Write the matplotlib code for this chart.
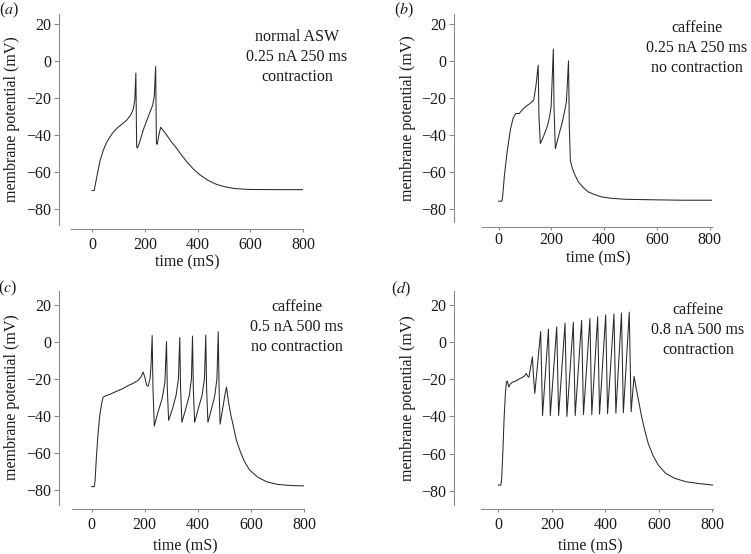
import matplotlib
matplotlib.use('Agg')
import matplotlib.pyplot as plt

plt.rcParams['font.family'] = 'Liberation Serif'
plt.rcParams['mathtext.fontset'] = 'stix'

# traces: time (ms) and membrane potential (mV)
t_a = [0, 8, 12, 18, 30, 43, 55, 68, 80, 94,
       110, 131, 145, 152, 157, 162, 166, 169, 172, 180,
       194, 213, 230, 236, 241, 244, 247, 252, 260, 283,
       300, 321, 340, 359, 385, 410, 440, 473, 505, 536,
       570, 599, 700, 800]
v_a = [-70, -70, -67, -62.5, -54, -48, -44, -41, -38.5, -36.4,
       -34.5, -32, -29.5, -27.5, -25.5, -21, -6.5, -46.3, -47, -44,
       -37.3, -30, -23.8, -19, -3, -44.5, -45, -41, -35.8, -40,
       -43.5, -47.2, -51, -54.4, -58.5, -61.6, -64.5, -66.7, -68, -68.8,
       -69.2, -69.4, -69.5, -69.5]

t_b = [0, 12, 15, 22, 33, 45, 55, 65, 78, 90,
       105, 120, 133, 142, 150, 153, 158, 170, 184, 193,
       199, 207.5, 210, 215, 225, 240, 250, 257, 265, 268,
       272, 280, 290, 302, 320, 340, 365, 390, 430, 480,
       600, 700, 810]
v_b = [-76, -76, -74, -62, -48.5, -37, -31, -28.5, -28.5, -26.5,
       -24.5, -23, -21.3, -13, -2.3, -30, -44.8, -41, -35.8, -30.5,
       -25, 6.4, -25, -47.6, -42, -34, -27.5, -22.2, 0, -35,
       -54, -58.5, -62, -65.5, -68.5, -71, -72.5, -73.7, -74.5, -75,
       -75.3, -75.5, -75.5]

t_c = [0, 10, 13, 18, 24, 30, 37, 43, 53, 68,
       90, 118, 140, 156, 175, 186, 194, 200, 207, 213,
       220, 224, 228, 231, 236, 250, 265, 276, 282, 285,
       290, 305, 318, 327, 332, 335, 340, 355, 368, 376,
       380, 383, 388, 402, 416, 425, 430, 433, 438, 452,
       464, 472, 477, 480, 484, 495, 503, 508, 515, 525,
       533, 545, 558, 575, 595, 625, 658, 700, 750, 800]
v_c = [-78.2, -78.2, -75, -62, -50, -40.5, -34, -30, -29.2, -28.5,
       -27, -25.3, -23.5, -22.5, -20.9, -19, -16.4, -19, -23.5, -24,
       -20, -12, 3.3, -25, -45.5, -38, -31, -22, 0, -25,
       -42.5, -36, -29, -20, 2.2, -25, -43.5, -36, -29, -20,
       3, -25, -43.5, -36, -29, -20, 3.5, -25, -43.5, -36,
       -29, -20, 5.3, -25, -44.5, -35, -28, -24.5, -32, -40,
       -45, -53, -58.5, -64.5, -69.2, -73, -75.5, -77, -77.6, -77.8]

t_d = [0, 9, 12, 17, 21, 26, 30, 33, 39, 45,
       54, 62, 70, 79, 90, 98, 104, 110, 114, 120,
       127, 131, 136, 158, 165, 187, 194, 218, 225, 249,
       256, 280, 287, 311, 318, 342, 349, 371, 378, 401,
       408, 432, 439, 460, 467, 489, 496, 507, 515, 522,
       535, 548, 560, 578, 597, 625, 659, 700, 750, 800]
v_d = [-76.8, -76.8, -74, -58, -42, -28, -21.5, -21, -24.2, -22.5,
       -21.5, -21.2, -20.5, -19.8, -19, -18.2, -17, -18.5, -19, -14,
       -8, -18, -27.7, 5.5, -39.5, 6.8, -39.5, 8, -39.5, 10,
       -40, 10.5, -39.5, 11.5, -39, 12.5, -39, 13.5, -38.8, 14.5,
       -38.5, 15, -38.2, 15.5, -38, 16, -37.5, -18.5, -25, -30,
       -40, -48, -54.5, -61, -66, -70.5, -73.2, -75, -76, -76.8]

panel_tags = ['a', 'b', 'c', 'd']
conditions = [['normal ASW', '0.25 nA 250 ms', 'contraction'],
              ['caffeine', '0.25 nA 250 ms', 'no contraction'],
              ['caffeine', '0.5 nA 500 ms', 'no contraction'],
              ['caffeine', '0.8 nA 500 ms', 'contraction']]
x_ticks = [0, 200, 400, 600, 800]
y_ticks = [20, 0, -20, -40, -60, -80]

W, H = 751, 554
fig = plt.figure(figsize=(W / 100, H / 100), dpi=100)


def fx(px):
    return px / W


def fy(py):
    return 1 - py / H


# per panel layout in pixels: axes box, limits, spine offsets, label spots
layout = [
    dict(box=(71, 14, 303, 225), xlim=(-80, 800), ylim=(-88.6, 25.4),
         left_out=12, bottom_out=4, xpad=3, ylab=(12, 119), xlab=(187, 262),
         tag=(9, 10), note=(297, [37, 57, 77])),
    dict(box=(482, 14, 712, 222), xlim=(-63, 809), ylim=(-87.3, 25.4),
         left_out=28, bottom_out=5, xpad=1, ylab=(408, 118), xlab=(598, 258),
         tag=(404, 10), note=(697, [28, 48, 68])),
    dict(box=(72, 291, 304, 505), xlim=(-74, 800), ylim=(-88.1, 27.3),
         left_out=13, bottom_out=4, xpad=3, ylab=(12, 397), xlab=(185, 546),
         tag=(8, 288), note=(297, [307, 327, 347])),
    dict(box=(481, 291, 713, 505), xlim=(-65, 802), ylim=(-87.5, 27.3),
         left_out=27, bottom_out=4, xpad=3, ylab=(408, 398), xlab=(590, 546),
         tag=(401, 289), note=(698, [310, 330, 350])),
]
traces = [(t_a, v_a), (t_b, v_b), (t_c, v_c), (t_d, v_d)]

spine_col = '#8a8a8a'
text_col = '#1a1a1a'
fs = 11.5

for lay, (t, v), tag, note in zip(layout, traces, panel_tags, conditions):
    l, top, r, b = lay['box']
    ax = fig.add_axes([fx(l), fy(b), fx(r) - fx(l), fy(top) - fy(b)])
    ax.plot(t, v, color='#2a2a2a', lw=0.75)
    ax.set_xlim(*lay['xlim'])
    ax.set_ylim(*lay['ylim'])
    ax.set_xticks(x_ticks)
    ax.set_yticks(y_ticks)
    for s in ['top', 'right']:
        ax.spines[s].set_visible(False)
    ax.spines['left'].set_position(('outward', lay['left_out'] * 0.72))
    ax.spines['bottom'].set_position(('outward', lay['bottom_out'] * 0.72))
    for s in ['left', 'bottom']:
        ax.spines[s].set_color(spine_col)
        ax.spines[s].set_linewidth(0.8)
    ax.tick_params(axis='y', direction='out', length=3.5, width=0.8,
                   color=spine_col, pad=2, labelsize=fs, labelcolor=text_col)
    ax.tick_params(axis='x', direction='out', length=2.5, width=0.8,
                   color=spine_col, pad=lay['xpad'], labelsize=fs,
                   labelcolor=text_col)
    ax.patch.set_visible(False)

    fig.text(fx(lay['ylab'][0]), fy(lay['ylab'][1]), 'membrane potential (mV)',
             rotation=90, ha='center', va='center', fontsize=fs, color=text_col)
    fig.text(fx(lay['xlab'][0]), fy(lay['xlab'][1]), 'time (mS)',
             ha='center', va='center', fontsize=fs, color=text_col)
    fig.text(fx(lay['tag'][0]), fy(lay['tag'][1]), r'($\mathit{%s}$)' % tag,
             ha='center', va='center', fontsize=fs, color=text_col)
    nx, nys = lay['note']
    for line, ny in zip(note, nys):
        fig.text(fx(nx), fy(ny), line, ha='center', va='center',
                 fontsize=fs, color=text_col)

fig.savefig('out.png', dpi=100)
